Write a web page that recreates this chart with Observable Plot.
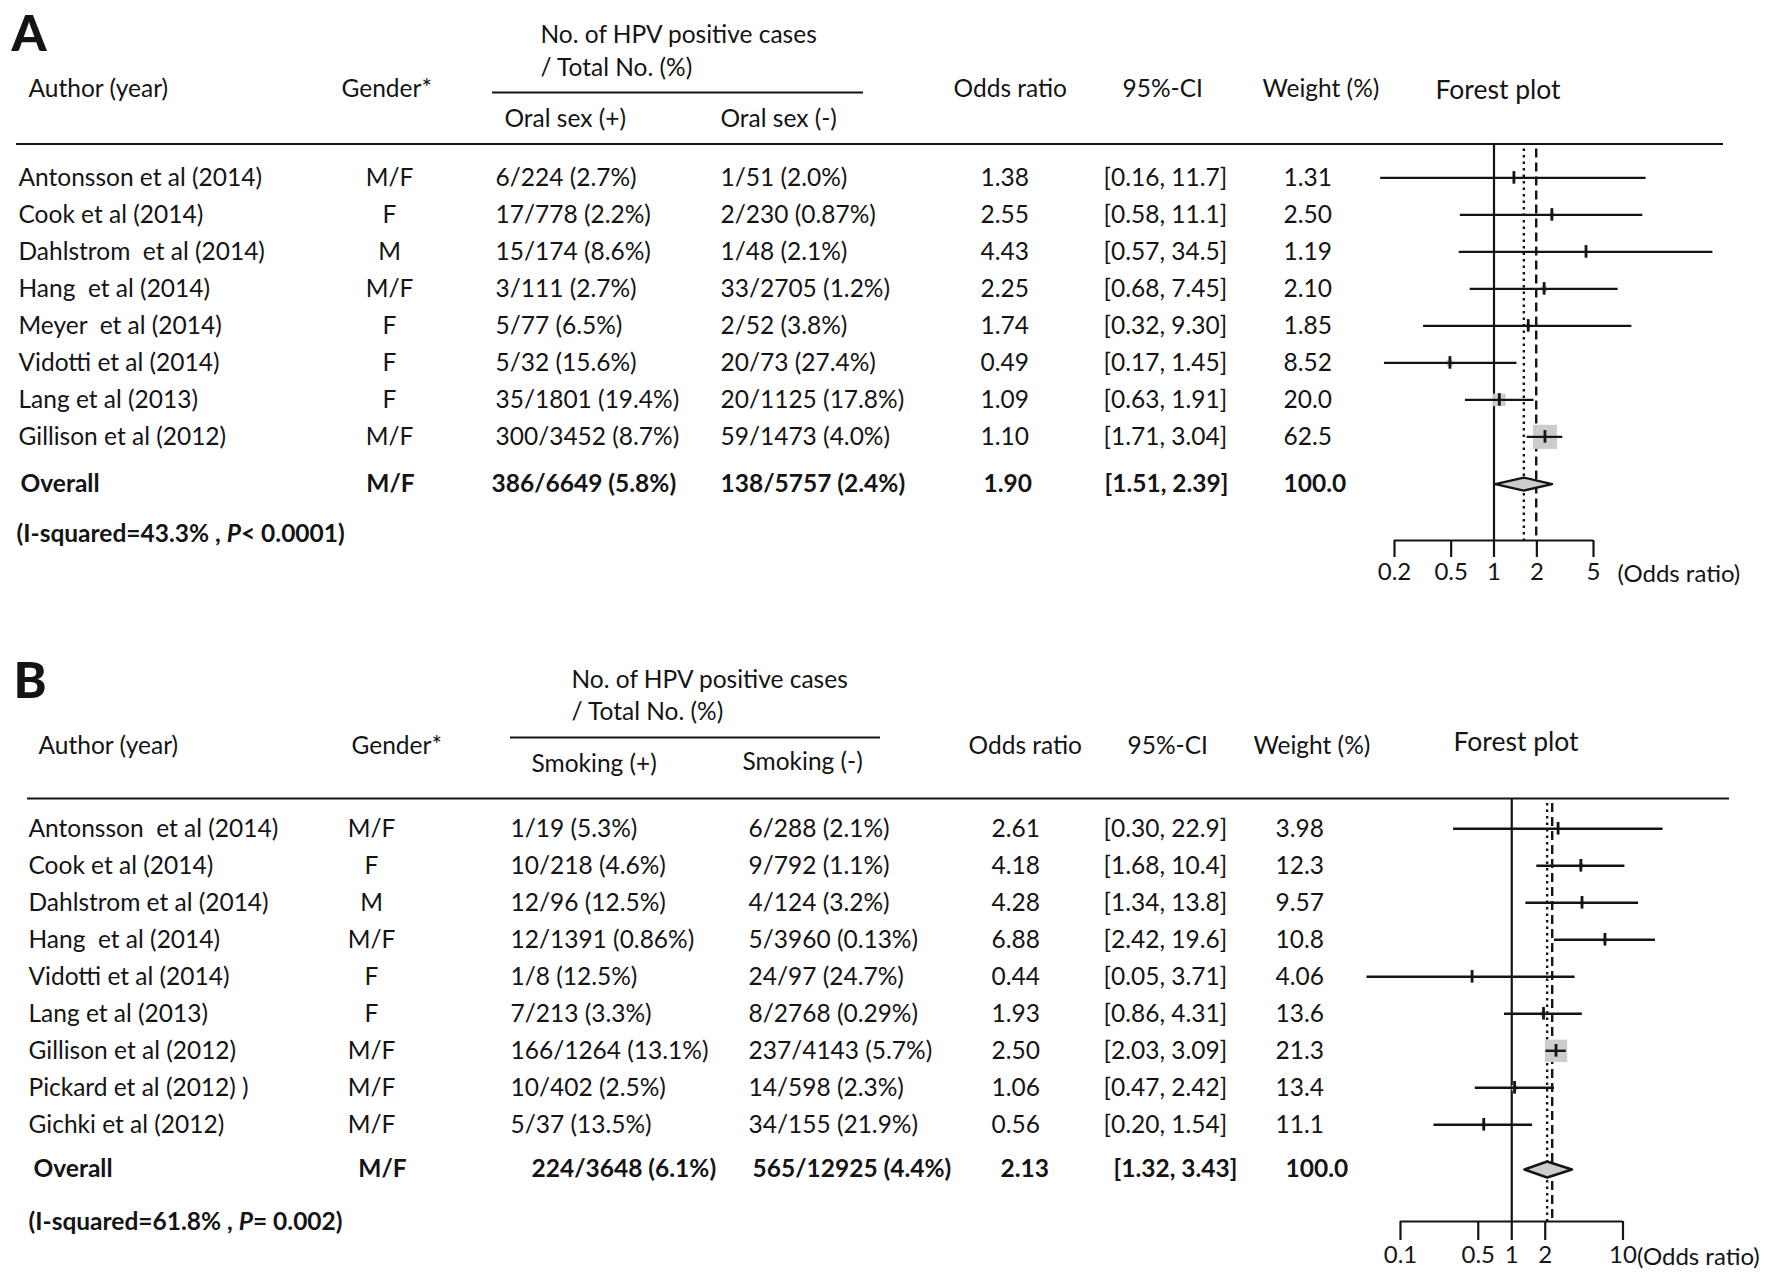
<!DOCTYPE html>
<html><head><meta charset="utf-8">
<script src="https://cdn.jsdelivr.net/npm/d3@7"></script>
<script src="https://cdn.jsdelivr.net/npm/@observablehq/plot@0.6"></script>
<style>
html,body{margin:0;padding:0;background:#fff;}
#root{width:1772px;height:1286px;position:relative;overflow:hidden;background:#fff;}
.panel{position:absolute;left:0;width:1772px;}
.panel svg{position:absolute;left:0;top:0;}
svg text{white-space:pre;}
</style></head><body><div id="root"></div>
<script>
// ---------------- Panel A data (oral sex) ----------------
const studiesA = ["Antonsson et al (2014)", "Cook et al (2014)", "Dahlstrom  et al (2014)", "Hang  et al (2014)", "Meyer  et al (2014)", "Vidotti et al (2014)", "Lang et al (2013)", "Gillison et al (2012)"];
const genderA = ["M/F", "F", "M", "M/F", "F", "F", "F", "M/F"];
const posA = ["6/224 (2.7%)", "17/778 (2.2%)", "15/174 (8.6%)", "3/111 (2.7%)", "5/77 (6.5%)", "5/32 (15.6%)", "35/1801 (19.4%)", "300/3452 (8.7%)"];
const negA = ["1/51 (2.0%)", "2/230 (0.87%)", "1/48 (2.1%)", "33/2705 (1.2%)", "2/52 (3.8%)", "20/73 (27.4%)", "20/1125 (17.8%)", "59/1473 (4.0%)"];
const orA = ["1.38", "2.55", "4.43", "2.25", "1.74", "0.49", "1.09", "1.10"];
const ciA = ["[0.16, 11.7]", "[0.58, 11.1]", "[0.57, 34.5]", "[0.68, 7.45]", "[0.32, 9.30]", "[0.17, 1.45]", "[0.63, 1.91]", "[1.71, 3.04]"];
const weightA = ["1.31", "2.50", "1.19", "2.10", "1.85", "8.52", "20.0", "62.5"];
const pointA = [1.38, 2.55, 4.43, 2.25, 1.74, 0.49, 1.09, 2.28]; // point estimates as drawn in the forest plot
const overallA = {gender: "M/F", pos: "386/6649 (5.8%)", neg: "138/5757 (2.4%)", or: "1.90", ci: "[1.51, 2.39]", weight: "100.0"};
const diamondA = {lo: 1.02, est: 1.62, hi: 2.56};
const refLinesA = {dotted: 1.62, dashed: 1.98};
const heteroA = ["(I-squared=43.3% , ", "P", "< 0.0001)"];
const ticksA = [0.2, 0.5, 1, 2, 5];

// ---------------- Panel B data (smoking) ----------------
const studiesB = ["Antonsson  et al (2014)", "Cook et al (2014)", "Dahlstrom et al (2014)", "Hang  et al (2014)", "Vidotti et al (2014)", "Lang et al (2013)", "Gillison et al (2012)", "Pickard et al (2012) )", "Gichki et al (2012)"];
const genderB = ["M/F", "F", "M", "M/F", "F", "F", "M/F", "M/F", "M/F"];
const posB = ["1/19 (5.3%)", "10/218 (4.6%)", "12/96 (12.5%)", "12/1391 (0.86%)", "1/8 (12.5%)", "7/213 (3.3%)", "166/1264 (13.1%)", "10/402 (2.5%)", "5/37 (13.5%)"];
const negB = ["6/288 (2.1%)", "9/792 (1.1%)", "4/124 (3.2%)", "5/3960 (0.13%)", "24/97 (24.7%)", "8/2768 (0.29%)", "237/4143 (5.7%)", "14/598 (2.3%)", "34/155 (21.9%)"];
const orB = ["2.61", "4.18", "4.28", "6.88", "0.44", "1.93", "2.50", "1.06", "0.56"];
const ciB = ["[0.30, 22.9]", "[1.68, 10.4]", "[1.34, 13.8]", "[2.42, 19.6]", "[0.05, 3.71]", "[0.86, 4.31]", "[2.03, 3.09]", "[0.47, 2.42]", "[0.20, 1.54]"];
const weightB = ["3.98", "12.3", "9.57", "10.8", "4.06", "13.6", "21.3", "13.4", "11.1"];
const pointB = orB.map(Number);
const overallB = {gender: "M/F", pos: "224/3648 (6.1%)", neg: "565/12925 (4.4%)", or: "2.13", ci: "[1.32, 3.43]", weight: "100.0"};
const diamondB = {lo: 1.30, est: 2.08, hi: 3.48};
const refLinesB = {dotted: 2.08, dashed: 2.31};
const heteroB = ["(I-squared=61.8% , ", "P", "= 0.002)"];
const ticksB = [0.1, 0.5, 1, 2, 10];

// ---------------- layout ----------------
const INK = "#141414";
const FONT = "Lato, 'Open Sans', 'DejaVu Sans', sans-serif";

const layoutA = {
  letter: "A", letterPos: [11, 34], top: 0, height: 616,
  row0: 177.4, rowH: 37, axisY: 540, overallY: 483.6, heteroY: 533.4, heteroX: 16, tickSize: 17, diamondH: 6.5,
  xDomain: [0.2, 5], xRange: [1394, 1593], labelDx: 24, rMax: 13.6,
  headers: [
    {t: "No. of HPV positive cases", x: 540, y: 35},
    {t: "/ Total No. (%)", x: 540, y: 68},
    {t: "Author (year)", x: 28, y: 89},
    {t: "Gender*", x: 341, y: 89},
    {t: "Oral sex (+)", x: 504, y: 119},
    {t: "Oral sex (-)", x: 720, y: 119},
    {t: "Odds ratio", x: 953, y: 89},
    {t: "95%-CI", x: 1122, y: 89},
    {t: "Weight (%)", x: 1262, y: 89},
    {t: "Forest plot", x: 1435, y: 90, fs: 26.5}
  ],
  subRule: {x1: 492, x2: 863, y: 92},
  topRule: {x1: 16, x2: 1723, y: 143.5},
  cols: {author: 18, gender: 389, pos: 495, neg: 720, or: 980, ci: 1103, weight: 1283},
  ocols: {author: 20, gender: 390, pos: 491, neg: 720, or: 983, ci: 1104, weight: 1283}
};
const layoutB = {
  letter: "B", letterPos: [13, 681], top: 616, height: 670,
  row0: 828.3, rowH: 37, axisY: 1221, overallY: 1169, heteroY: 1222, heteroX: 28, tickSize: 19, diamondH: 8,
  xDomain: [0.1, 10], xRange: [1400, 1622.5], labelDx: 14, rMax: 12.6,
  headers: [
    {t: "No. of HPV positive cases", x: 571, y: 680},
    {t: "/ Total No. (%)", x: 571, y: 712},
    {t: "Author (year)", x: 38, y: 746},
    {t: "Gender*", x: 351, y: 746},
    {t: "Smoking (+)", x: 531, y: 764},
    {t: "Smoking (-)", x: 742, y: 762},
    {t: "Odds ratio", x: 968, y: 746},
    {t: "95%-CI", x: 1127, y: 746},
    {t: "Weight (%)", x: 1253, y: 746},
    {t: "Forest plot", x: 1453, y: 742, fs: 26.5}
  ],
  subRule: {x1: 510, x2: 880, y: 737},
  topRule: {x1: 27, x2: 1729, y: 798},
  cols: {author: 28, gender: 371, pos: 510, neg: 748, or: 991, ci: 1103, weight: 1275},
  ocols: {author: 33, gender: 382, pos: 531, neg: 752, or: 1000, ci: 1113, weight: 1285}
};

function buildRows(studies, gender, pos, neg, or, ci, weight, point) {
  return studies.map((study, i) => {
    const [lo, hi] = ci[i].match(/[\d.]+/g).map(Number);
    const se = (Math.log(hi) - Math.log(lo)) / 3.92;
    return {i, study, gender: gender[i], pos: pos[i], neg: neg[i], or: or[i], ci: ci[i], weight: weight[i], lo, hi, point: point[i], w: 1 / (se * se)};
  });
}

function panel(L, rows, overall, diamond, refs, hetero, ticks) {
  const div = document.createElement("div");
  div.className = "panel";
  div.style.top = L.top + "px";
  div.style.height = L.height + "px";
  const Y = (px) => (px - L.row0) / L.rowH;
  const frameH = L.axisY - L.top;
  const yScale = {type: "linear", domain: [Y(L.top), Y(L.axisY)], range: [0, frameH], axis: null};
  const yo = Y(L.overallY);
  const common = {width: 1772, height: L.height, marginTop: 0, marginLeft: 0, marginRight: 0, marginBottom: L.height - frameH};
  const style = {fontFamily: FONT, fontSize: "24.5px", color: INK, background: "transparent", overflow: "visible"};
  const txt = (data, o) => Plot.text(data, {textAnchor: "start", fill: INK, fontSize: 24.5, ...o});
  const c = L.cols, oc = L.ocols;
  const ov = [overall];

  const table = Plot.plot({
    ...common,
    x: {type: "identity", axis: null},
    y: yScale,
    style,
    marks: [
      txt([L.letter], {x: L.letterPos[0], y: Y(L.letterPos[1]), text: d => d, fontSize: 50, fontWeight: 900}),
      ...L.headers.map(h => txt([h.t], {x: h.x, y: Y(h.y), text: d => d, fontSize: h.fs || 24.5})),
      Plot.ruleY([Y(L.subRule.y)], {x1: L.subRule.x1, x2: L.subRule.x2, stroke: INK, strokeWidth: 2}),
      Plot.ruleY([Y(L.topRule.y)], {x1: L.topRule.x1, x2: L.topRule.x2, stroke: INK, strokeWidth: 2}),
      txt(rows, {x: c.author, y: "i", text: "study"}),
      txt(rows, {x: c.gender, y: "i", text: "gender", textAnchor: "middle"}),
      txt(rows, {x: c.pos, y: "i", text: "pos"}),
      txt(rows, {x: c.neg, y: "i", text: "neg"}),
      txt(rows, {x: c.or, y: "i", text: "or"}),
      txt(rows, {x: c.ci, y: "i", text: "ci"}),
      txt(rows, {x: c.weight, y: "i", text: "weight"}),
      txt(ov, {x: oc.author, y: yo, text: () => "Overall", fontWeight: 700}),
      txt(ov, {x: oc.gender, y: yo, text: "gender", textAnchor: "middle", fontWeight: 700}),
      txt(ov, {x: oc.pos, y: yo, text: "pos", fontWeight: 700}),
      txt(ov, {x: oc.neg, y: yo, text: "neg", fontWeight: 700}),
      txt(ov, {x: oc.or, y: yo, text: "or", fontWeight: 700}),
      txt(ov, {x: oc.ci, y: yo, text: "ci", fontWeight: 700}),
      txt(ov, {x: oc.weight, y: yo, text: "weight", fontWeight: 700}),
      txt([hetero.join("")], {x: L.heteroX, y: Y(L.heteroY), text: d => d, fontWeight: 700})
    ]
  });

  const wMax = d3.max(rows, d => d.w);
  const dh = L.diamondH / L.rowH;
  const diamondPts = [
    {x: diamond.lo, y: yo}, {x: diamond.est, y: yo - dh}, {x: diamond.hi, y: yo},
    {x: diamond.est, y: yo + dh}, {x: diamond.lo, y: yo}
  ];
  const forest = Plot.plot({
    ...common,
    x: {type: "log", domain: L.xDomain, range: L.xRange, axis: null},
    y: yScale,
    r: {type: "sqrt", domain: [0, wMax], range: [0, L.rMax]},
    style,
    marks: [
      Plot.ruleX([1], {y1: Y(L.topRule.y), y2: Y(L.axisY), stroke: INK, strokeWidth: 2.2}),
      Plot.ruleX([refs.dotted], {y1: Y(L.topRule.y + 5), y2: Y(L.axisY), stroke: INK, strokeWidth: 2.4, strokeDasharray: "2.5,4"}),
      Plot.ruleX([refs.dashed], {y1: Y(L.topRule.y + 5), y2: Y(L.axisY), stroke: INK, strokeWidth: 2.4, strokeDasharray: "9,5"}),
      Plot.dot(rows, {x: "point", y: "i", r: "w", symbol: "square", fill: "#cccccc", stroke: "none"}),
      Plot.ruleY(rows, {y: "i", x1: "lo", x2: "hi", stroke: INK, strokeWidth: 2.4}),
      Plot.ruleX(rows, {x: "point", y1: d => d.i - 0.17, y2: d => d.i + 0.17, stroke: INK, strokeWidth: 2.8}),
      Plot.line(diamondPts, {x: "x", y: "y", fill: "#cccccc", stroke: INK, strokeWidth: 2.4}),
      Plot.ruleY([Y(L.axisY)], {x1: L.xDomain[0], x2: L.xDomain[1], stroke: INK, strokeWidth: 2.2}),
      Plot.axisX({ticks, tickFormat: d => String(d), tickSize: L.tickSize, tickPadding: 5, fontSize: 24, stroke: INK, strokeWidth: 2.2, fill: INK, label: null, anchor: "bottom"}),
      txt(["(Odds ratio)"], {x: L.xDomain[1], y: Y(L.axisY + L.tickSize + 17), dx: L.labelDx, text: d => d, fontSize: 24})
    ]
  });

  div.appendChild(table);
  div.appendChild(forest);
  // italic "P" in the heterogeneity line
  const ns = "http://www.w3.org/2000/svg";
  table.querySelectorAll("text").forEach(t => {
    if (t.textContent === hetero.join("")) {
      t.textContent = "";
      hetero.forEach((s, k) => {
        const ts = document.createElementNS(ns, "tspan");
        ts.textContent = s;
        if (k === 1) ts.setAttribute("font-style", "italic");
        t.appendChild(ts);
      });
    }
  });
  return div;
}

const rowsA = buildRows(studiesA, genderA, posA, negA, orA, ciA, weightA, pointA);
const rowsB = buildRows(studiesB, genderB, posB, negB, orB, ciB, weightB, pointB);
const root = document.getElementById("root");
root.appendChild(panel(layoutA, rowsA, overallA, diamondA, refLinesA, heteroA, ticksA));
root.appendChild(panel(layoutB, rowsB, overallB, diamondB, refLinesB, heteroB, ticksB));
</script></body></html>
